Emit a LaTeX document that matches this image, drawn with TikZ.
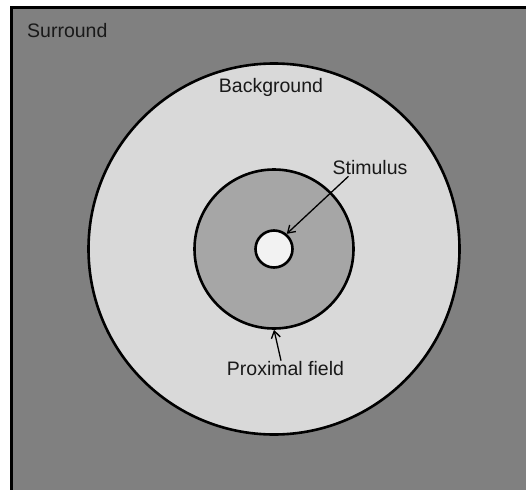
\documentclass[tikz,border=0pt]{standalone}
\usepackage{fontspec}
\setmainfont{Liberation Sans}
\usepackage{xcolor}
\usetikzlibrary{arrows.meta,positioning}
\definecolor{surroundgray}{HTML}{808080}
\definecolor{backgray}{HTML}{D9D9D9}
\definecolor{proxgray}{HTML}{A6A6A6}
\definecolor{stimwhite}{HTML}{F2F2F2}

\begin{document}
\begin{tikzpicture}[
    x=1pt,y=-1pt,
    font=\fontsize{19.5}{23}\selectfont,
    field/.style={draw,circle,line width=2.6pt,inner sep=0pt},
    label/.style={inner sep=1pt,text=black!90},
    pointer/.style={-{Straight Barb[length=7pt,width=9pt]},line width=1.3pt}
  ]
    \useasboundingbox (0,0) rectangle (526,489);
    \fill[white] (0,0) rectangle (526,489);
    \draw[line width=3pt,fill=surroundgray] (11.5,7.5) rectangle (540,500);

    \node[field,fill=backgray,minimum size=371pt] (back) at (274,249) {};
    \node[field,fill=proxgray,minimum size=159pt] (prox) at (274,249) {};
    \node[field,fill=stimwhite,minimum size=37pt] (stim) at (274,249) {};

    \node[label,anchor=west] (surroundlbl) at (26,31) {Surround};
    \node[label] (backlbl) at (271,87) {Background};
    \node[label] (stimlbl) at (370,168) {Stimulus};
    \node[label] (proxlbl) at (285.5,369) {Proximal field};

    \draw[pointer] (stimlbl.south west) ++(17,0) -- (stim.50);
    \draw[pointer] (proxlbl.north) ++(-4.5,0) -- (prox.south);
  \end{tikzpicture}
\end{document}
